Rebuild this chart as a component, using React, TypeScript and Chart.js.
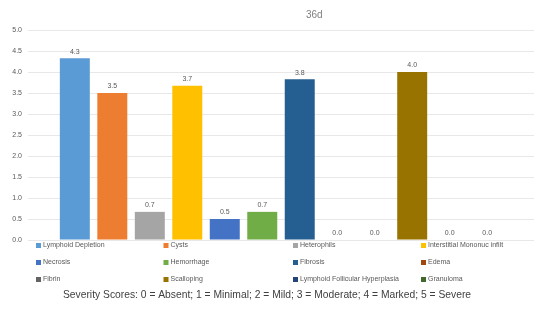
import React, { useEffect, useRef } from "react";
import { Chart, registerables } from "chart.js";

Chart.register(...registerables);

const categories = [""];
const seriesNames = [
  "Lymphoid Depletion",
  "Cysts",
  "Heterophils",
  "Interstitial Mononuc infilt",
  "Necrosis",
  "Hemorrhage",
  "Fibrosis",
  "Edema",
  "Fibrin",
  "Scalloping",
  "Lymphoid Follicular Hyperplasia",
  "Granuloma",
];
const seriesValues = [4.33, 3.5, 0.67, 3.67, 0.5, 0.67, 3.83, 0.0, 0.0, 4.0, 0.0, 0.0];
const seriesColors = [
  "#5B9BD5",
  "#ED7D31",
  "#A5A5A5",
  "#FFC000",
  "#4472C4",
  "#70AD47",
  "#255E91",
  "#9E480E",
  "#636363",
  "#997300",
  "#264478",
  "#43682B",
];
const titleText = "36d";
const footerText =
  "Severity Scores: 0 = Absent; 1 = Minimal; 2 = Mild; 3 = Moderate; 4 = Marked; 5 = Severe";

const FONT = "'Liberation Sans', Arial, sans-serif";

const extrasPlugin = {
  id: "extras",
  afterDatasetsDraw(chart: any) {
    const ctx = chart.ctx;
    ctx.save();
    ctx.fillStyle = "#595959";
    ctx.font = `7px ${FONT}`;
    ctx.textAlign = "center";
    ctx.textBaseline = "bottom";
    chart.data.datasets.forEach((ds: any, i: number) => {
      const meta = chart.getDatasetMeta(i);
      meta.data.forEach((el: any, j: number) => {
        const v = ds.data[j];
        ctx.fillText(Number(v).toFixed(1), el.x, el.y - 3);
      });
    });
    ctx.restore();
  },
  afterDraw(chart: any) {
    const ctx = chart.ctx;
    const area = chart.chartArea;
    ctx.save();
    // title
    ctx.fillStyle = "#7F7F7F";
    ctx.font = `10px ${FONT}`;
    ctx.textAlign = "left";
    ctx.textBaseline = "middle";
    ctx.fillText(titleText, 306, 15);
    // legend grid
    const cols = 4;
    const colX = [36, 163.5, 293, 421];
    const rowY = [area.bottom + 5.5, area.bottom + 22.5, area.bottom + 39.5];
    ctx.font = `7px ${FONT}`;
    chart.data.datasets.forEach((ds: any, i: number) => {
      const c = i % cols;
      const r = Math.floor(i / cols);
      const x = colX[c];
      const y = rowY[r];
      ctx.fillStyle = ds.backgroundColor;
      ctx.fillRect(x, y - 2.5, 5, 5);
      ctx.fillStyle = "#595959";
      ctx.textAlign = "left";
      ctx.textBaseline = "middle";
      ctx.fillText(ds.label, x + 7, y);
    });
    // footer
    ctx.fillStyle = "#404040";
    ctx.font = `10.3px ${FONT}`;
    ctx.textAlign = "center";
    ctx.textBaseline = "middle";
    ctx.fillText(footerText, 267, 295);
    ctx.restore();
  },
};

export default function App() {
  const ref = useRef<HTMLCanvasElement>(null);
  useEffect(() => {
    document.body.style.margin = "0";
    document.body.style.background = "#ffffff";
    const chart = new Chart(ref.current as HTMLCanvasElement, {
      type: "bar",
      data: {
        labels: categories,
        datasets: seriesNames.map((name, i) => ({
          label: name,
          data: [seriesValues[i]],
          backgroundColor: seriesColors[i],
          borderWidth: 0,
          categoryPercentage: 0.889,
          barPercentage: 0.8,
        })),
      },
      options: {
        responsive: false,
        animation: false,
        layout: { padding: { top: 30, bottom: 72, left: 0, right: 1 } },
        plugins: {
          legend: { display: false },
          title: { display: false },
          tooltip: { enabled: false },
        },
        scales: {
          x: { display: false },
          y: {
            min: 0,
            max: 5,
            afterFit(scale: any) {
              scale.width = 28;
            },
            ticks: {
              stepSize: 0.5,
              padding: 6,
              color: "#595959",
              font: { size: 7, family: FONT },
              callback: (v: any) => Number(v).toFixed(1),
            },
            grid: { color: "#E8E8E8", drawTicks: false, lineWidth: 1 },
            border: { display: false },
          },
        },
      },
      plugins: [extrasPlugin],
    });
    return () => chart.destroy();
  }, []);
  return <canvas ref={ref} width={535} height={312} style={{ display: "block" }} />;
}
